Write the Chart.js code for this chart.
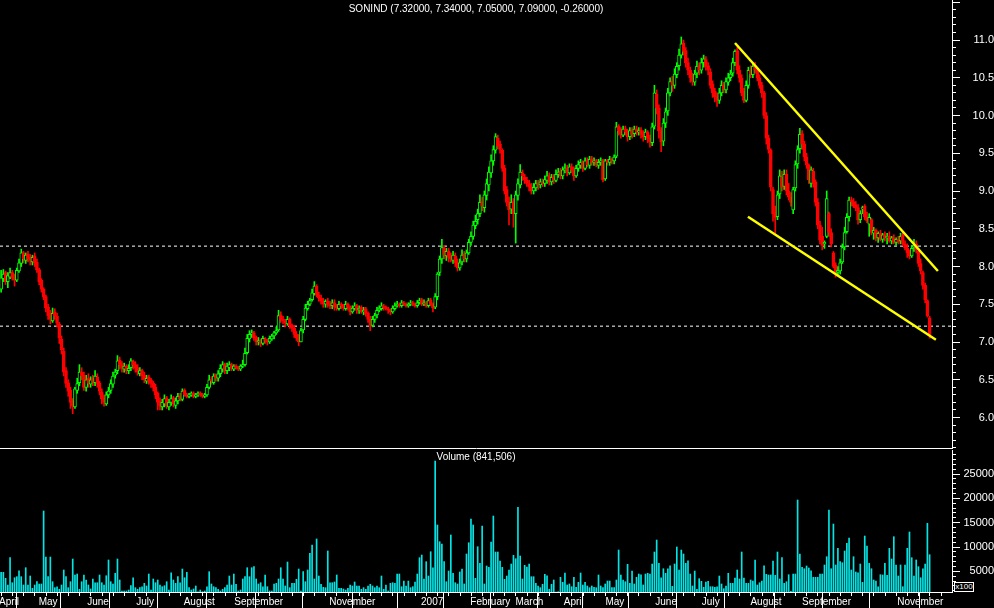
<!DOCTYPE html>
<html>
<head>
<meta charset="utf-8">
<script src="https://cdn.jsdelivr.net/npm/chart.js@4.4.0/dist/chart.umd.min.js"></script>
<style>
  html, body { margin: 0; padding: 0; background: #000; }
  #wrap { position: relative; width: 994px; height: 608px; background: #000; overflow: hidden; }
  #pricePane { position: absolute; left: 0; top: 0; width: 994px; height: 449px; }
  #volPane { position: absolute; left: 0; top: 449px; width: 994px; height: 159px; }
  .caption { position: absolute; left: 0; width: 952px; text-align: center; color: #fff;
             font: 10px "Liberation Sans", Arial, sans-serif; line-height: 12px; white-space: nowrap; }
  #x100 { position: absolute; left: 954px; top: 582px; width: 18px; height: 8px; border: 1px solid #fff;
          background: #000; color: #fff; font: 8px "Liberation Sans", Arial, sans-serif; line-height: 8px; text-align: center; }
</style>
</head>
<body>
<div id="wrap">
  <div id="pricePane"><canvas id="priceChart"></canvas></div>
  <div id="volPane"><canvas id="volChart"></canvas></div>
  <div class="caption" style="top:3px">SONIND (7.32000, 7.34000, 7.05000, 7.09000, -0.26000)</div>
  <div class="caption" style="top:451px">Volume (841,506)</div>
  <div id="x100">x100</div>
</div>
<script>
// daily candles, one per trading day, Apr 2006 - Nov 2007
const opens = [
  7.70,7.84,7.92,7.80,7.86,7.92,7.86,7.82,7.94,8.04, 8.18,8.08,8.16,8.12,8.06,8.14,8.06,7.96,7.82,7.70,
  7.60,7.46,7.38,7.28,7.40,7.34,7.24,7.04,6.88,6.62, 6.46,6.36,6.22,6.14,6.36,6.46,6.60,6.56,6.40,6.52,
  6.44,6.52,6.46,6.54,6.46,6.34,6.26,6.18,6.30,6.36, 6.44,6.56,6.62,6.76,6.70,6.64,6.68,6.62,6.66,6.74,
  6.70,6.66,6.58,6.62,6.56,6.48,6.54,6.50,6.46,6.40, 6.32,6.22,6.14,6.18,6.26,6.14,6.20,6.26,6.16,6.22,
  6.28,6.24,6.36,6.30,6.28,6.30,6.32,6.28,6.30,6.32, 6.30,6.28,6.30,6.40,6.50,6.46,6.56,6.52,6.58,6.64,
  6.70,6.62,6.66,6.70,6.64,6.68,6.66,6.64,6.68,6.70, 6.86,7.04,7.10,7.12,7.06,7.00,7.02,6.98,7.04,7.02,
  7.00,7.04,7.08,7.12,7.16,7.36,7.30,7.28,7.24,7.30, 7.22,7.18,7.10,7.06,7.00,7.16,7.30,7.44,7.50,7.56,
  7.64,7.74,7.62,7.58,7.54,7.50,7.54,7.50,7.48,7.52, 7.48,7.44,7.50,7.48,7.44,7.50,7.46,7.40,7.44,7.48,
  7.42,7.46,7.40,7.44,7.38,7.30,7.22,7.30,7.36,7.42, 7.44,7.48,7.46,7.44,7.42,7.40,7.44,7.48,7.50,7.48,
  7.52,7.50,7.48,7.50,7.52,7.50,7.48,7.52,7.56,7.50, 7.52,7.48,7.56,7.50,7.46,7.60,7.92,8.10,8.24,8.14,
  8.20,8.14,8.08,8.14,8.06,7.98,8.06,8.16,8.10,8.18, 8.32,8.40,8.54,8.62,8.70,8.86,8.78,8.94,9.08,9.24,
  9.40,9.54,9.70,9.62,9.54,9.30,9.02,8.86,8.76,8.86, 8.70,8.94,9.08,9.24,9.18,9.14,9.10,9.06,9.00,9.04,
  9.10,9.08,9.12,9.10,9.14,9.20,9.12,9.18,9.14,9.22, 9.26,9.20,9.28,9.30,9.24,9.32,9.28,9.20,9.30,9.34,
  9.38,9.30,9.40,9.34,9.42,9.38,9.40,9.34,9.38,9.40, 9.16,9.40,9.38,9.42,9.40,9.46,9.86,9.80,9.74,9.82,
  9.78,9.72,9.80,9.76,9.82,9.78,9.80,9.76,9.72,9.78, 9.70,9.64,9.86,10.28,10.10,9.80,9.66,9.90,10.06,10.30,
  10.46,10.40,10.54,10.66,10.80,10.96,10.86,10.70,10.60,10.52, 10.44,10.56,10.66,10.60,10.70,10.74,10.66,10.58,10.42,10.32,
  10.26,10.20,10.30,10.40,10.34,10.44,10.50,10.56,10.70,10.86, 10.60,10.50,10.32,10.20,10.40,10.60,10.54,10.66,10.60,10.50,
  10.40,10.30,10.00,9.70,9.54,9.02,8.72,8.66,8.96,9.18, 9.06,9.22,9.00,8.92,8.75,9.04,9.36,9.56,9.76,9.62,
  9.45,9.34,9.10,9.26,9.12,8.85,8.55,8.40,8.30,8.40, 8.70,8.45,8.18,8.02,7.92,7.94,8.06,8.26,8.46,8.66,
  8.88,8.86,8.82,8.78,8.62,8.76,8.80,8.66,8.56,8.62, 8.44,8.48,8.38,8.44,8.36,8.42,8.38,8.40,8.34,8.38,
  8.32,8.36,8.34,8.42,8.30,8.24,8.18,8.14,8.26,8.30, 8.20,8.04,7.92,7.75,7.55,7.32
];
const highs = [
  7.95,7.96,7.94,7.92,7.98,7.95,7.90,7.98,8.10,8.23, 8.20,8.18,8.20,8.16,8.15,8.18,8.10,7.98,7.84,7.72,
  7.62,7.50,7.42,7.45,7.44,7.38,7.26,7.08,6.92,6.66, 6.50,6.40,6.25,6.40,6.52,6.70,6.66,6.60,6.56,6.58,
  6.54,6.56,6.62,6.58,6.48,6.38,6.30,6.34,6.40,6.50, 6.60,6.64,6.82,6.80,6.74,6.72,6.70,6.70,6.78,6.76,
  6.74,6.70,6.66,6.64,6.60,6.56,6.56,6.52,6.48,6.44, 6.34,6.26,6.24,6.30,6.28,6.24,6.30,6.28,6.26,6.32,
  6.32,6.38,6.38,6.32,6.32,6.34,6.34,6.32,6.34,6.34, 6.32,6.32,6.44,6.56,6.54,6.58,6.58,6.62,6.70,6.74,
  6.72,6.72,6.74,6.72,6.70,6.70,6.68,6.70,6.76,6.92, 7.10,7.15,7.16,7.14,7.08,7.06,7.04,7.08,7.06,7.04,
  7.08,7.10,7.14,7.20,7.42,7.40,7.34,7.30,7.34,7.32, 7.24,7.22,7.14,7.10,7.18,7.34,7.50,7.54,7.58,7.70,
  7.80,7.76,7.66,7.62,7.58,7.56,7.58,7.54,7.56,7.56, 7.50,7.54,7.52,7.50,7.54,7.52,7.48,7.48,7.52,7.50,
  7.48,7.48,7.46,7.46,7.40,7.34,7.34,7.38,7.46,7.48, 7.52,7.50,7.48,7.46,7.44,7.48,7.52,7.54,7.52,7.55,
  7.54,7.52,7.52,7.55,7.54,7.52,7.55,7.58,7.58,7.56, 7.54,7.58,7.58,7.52,7.64,7.92,8.14,8.36,8.28,8.24,
  8.24,8.18,8.20,8.18,8.10,8.10,8.22,8.20,8.22,8.36, 8.46,8.60,8.68,8.76,8.95,8.92,9.00,9.16,9.32,9.48,
  9.60,9.76,9.74,9.66,9.56,9.34,9.06,8.92,8.95,8.90, 9.00,9.16,9.35,9.28,9.22,9.18,9.14,9.10,9.10,9.14,
  9.14,9.16,9.16,9.20,9.26,9.24,9.22,9.22,9.28,9.30, 9.30,9.32,9.36,9.34,9.36,9.36,9.32,9.34,9.40,9.42,
  9.40,9.44,9.44,9.46,9.46,9.44,9.42,9.42,9.44,9.42, 9.42,9.42,9.46,9.44,9.48,9.91,9.88,9.84,9.86,9.86,
  9.82,9.84,9.84,9.86,9.86,9.84,9.84,9.80,9.82,9.80, 9.74,9.90,10.40,10.34,10.14,9.84,9.96,10.10,10.36,10.50,
  10.52,10.62,10.70,10.88,11.04,11.00,10.90,10.76,10.64,10.56, 10.60,10.72,10.70,10.76,10.80,10.78,10.70,10.62,10.46,10.36,
  10.30,10.36,10.46,10.44,10.50,10.56,10.60,10.76,10.87,10.90, 10.66,10.54,10.36,10.46,10.64,10.66,10.70,10.70,10.64,10.54,
  10.44,10.32,10.04,9.74,9.56,9.05,8.80,9.00,9.28,9.26, 9.28,9.28,9.10,8.98,9.05,9.40,9.60,9.83,9.80,9.66,
  9.50,9.36,9.32,9.30,9.15,8.90,8.60,8.52,8.34,9.00, 8.72,8.50,8.20,8.05,8.00,8.10,8.30,8.52,8.70,8.92,
  8.92,8.90,8.86,8.82,8.74,8.80,8.82,8.72,8.70,8.64, 8.52,8.50,8.46,8.48,8.44,8.46,8.44,8.46,8.40,8.42,
  8.38,8.40,8.44,8.46,8.34,8.30,8.22,8.28,8.36,8.34, 8.24,8.10,7.94,7.78,7.56,7.34
];
const lows = [
  7.66,7.80,7.76,7.72,7.84,7.82,7.74,7.80,7.92,8.00, 8.05,8.04,8.06,8.02,8.02,8.00,7.92,7.76,7.66,7.56,
  7.40,7.30,7.24,7.26,7.30,7.20,6.98,6.84,6.55,6.40, 6.28,6.12,6.05,6.12,6.32,6.42,6.50,6.36,6.35,6.40,
  6.40,6.42,6.42,6.40,6.30,6.18,6.15,6.16,6.26,6.32, 6.40,6.52,6.58,6.64,6.60,6.60,6.58,6.58,6.62,6.64,
  6.60,6.56,6.55,6.50,6.46,6.45,6.44,6.40,6.35,6.25, 6.10,6.10,6.10,6.14,6.12,6.10,6.16,6.14,6.12,6.18,
  6.22,6.22,6.28,6.26,6.26,6.28,6.26,6.26,6.28,6.28, 6.26,6.26,6.28,6.38,6.44,6.44,6.48,6.48,6.54,6.60,
  6.58,6.58,6.62,6.62,6.62,6.64,6.62,6.62,6.66,6.68, 6.84,7.00,7.06,7.02,6.96,6.96,6.94,6.96,6.98,6.96,
  6.98,7.02,7.04,7.10,7.14,7.26,7.24,7.20,7.22,7.18, 7.14,7.06,7.02,6.95,7.00,7.12,7.28,7.42,7.48,7.54,
  7.62,7.60,7.54,7.50,7.46,7.46,7.46,7.44,7.44,7.42, 7.42,7.42,7.44,7.42,7.42,7.42,7.36,7.38,7.42,7.38,
  7.38,7.38,7.36,7.34,7.26,7.15,7.20,7.26,7.32,7.40, 7.42,7.42,7.42,7.38,7.36,7.38,7.42,7.46,7.46,7.46,
  7.48,7.46,7.46,7.48,7.48,7.46,7.46,7.50,7.48,7.48, 7.46,7.46,7.48,7.40,7.44,7.56,7.88,8.04,8.10,8.08,
  8.06,8.06,8.04,8.00,7.94,7.95,8.02,8.06,8.06,8.16, 8.28,8.36,8.50,8.56,8.66,8.74,8.72,8.88,9.00,9.18,
  9.34,9.50,9.56,9.50,9.26,8.96,8.80,8.55,8.70,8.52, 8.31,8.88,9.04,9.14,9.10,9.06,9.00,8.96,8.96,9.00,
  9.02,9.04,9.06,9.06,9.10,9.08,9.08,9.10,9.12,9.18, 9.16,9.16,9.24,9.20,9.22,9.24,9.14,9.18,9.26,9.30,
  9.26,9.28,9.32,9.30,9.34,9.34,9.32,9.30,9.34,9.12, 9.14,9.34,9.34,9.36,9.36,9.44,9.74,9.70,9.72,9.74,
  9.66,9.68,9.70,9.72,9.74,9.74,9.70,9.66,9.68,9.64, 9.58,9.60,9.82,10.02,9.70,9.52,9.60,9.84,10.00,10.26,
  10.32,10.36,10.50,10.60,10.76,10.80,10.64,10.54,10.44,10.40, 10.40,10.50,10.54,10.56,10.64,10.60,10.54,10.36,10.24,10.18,
  10.12,10.16,10.26,10.30,10.30,10.40,10.46,10.52,10.66,10.55, 10.44,10.26,10.17,10.18,10.36,10.50,10.50,10.56,10.46,10.36,
  10.24,9.96,9.62,9.50,9.00,8.60,8.44,8.62,8.90,9.00, 9.02,8.95,8.88,8.80,8.70,9.00,9.30,9.50,9.55,9.40,
  9.30,9.10,9.05,9.05,8.80,8.50,8.30,8.22,8.24,8.38, 8.40,8.26,7.98,7.86,7.88,7.90,8.04,8.22,8.44,8.60,
  8.80,8.78,8.74,8.56,8.58,8.70,8.62,8.58,8.40,8.42, 8.36,8.34,8.32,8.34,8.32,8.34,8.30,8.32,8.30,8.30,
  8.28,8.30,8.30,8.28,8.22,8.12,8.10,8.12,8.20,8.18, 8.00,7.90,7.70,7.52,7.33,7.05
];
const closes = [
  7.85,7.90,7.80,7.88,7.92,7.85,7.82,7.95,8.05,8.18, 8.10,8.15,8.10,8.08,8.12,8.05,7.95,7.80,7.70,7.60,
  7.45,7.35,7.30,7.38,7.35,7.25,7.05,6.90,6.60,6.45, 6.35,6.20,6.15,6.38,6.45,6.60,6.55,6.40,6.50,6.45,
  6.50,6.48,6.55,6.45,6.35,6.25,6.20,6.30,6.35,6.45, 6.55,6.60,6.75,6.70,6.65,6.68,6.62,6.65,6.75,6.70,
  6.65,6.60,6.62,6.55,6.50,6.52,6.48,6.45,6.40,6.30, 6.20,6.15,6.20,6.25,6.15,6.20,6.25,6.18,6.22,6.28,
  6.25,6.35,6.30,6.28,6.30,6.32,6.28,6.30,6.32,6.30, 6.28,6.30,6.40,6.50,6.48,6.55,6.52,6.58,6.65,6.70,
  6.62,6.68,6.70,6.65,6.68,6.66,6.64,6.68,6.70,6.85, 7.05,7.10,7.12,7.05,7.00,7.02,6.98,7.05,7.02,7.00,
  7.05,7.08,7.12,7.15,7.35,7.30,7.28,7.25,7.30,7.22, 7.18,7.10,7.05,7.00,7.15,7.30,7.45,7.50,7.55,7.65,
  7.74,7.62,7.58,7.54,7.50,7.54,7.50,7.48,7.52,7.46, 7.45,7.50,7.48,7.45,7.50,7.46,7.40,7.45,7.48,7.42,
  7.45,7.40,7.42,7.38,7.30,7.22,7.30,7.35,7.42,7.45, 7.48,7.46,7.44,7.42,7.40,7.45,7.48,7.50,7.48,7.52,
  7.50,7.48,7.50,7.52,7.50,7.48,7.52,7.55,7.50,7.52, 7.48,7.55,7.50,7.45,7.60,7.90,8.10,8.25,8.15,8.20,
  8.12,8.10,8.15,8.05,7.98,8.05,8.15,8.10,8.18,8.32, 8.40,8.55,8.60,8.70,8.85,8.80,8.95,9.10,9.25,9.40,
  9.55,9.72,9.60,9.55,9.30,9.00,8.85,8.75,8.85,8.70, 8.95,9.10,9.25,9.20,9.15,9.10,9.05,9.00,9.05,9.10,
  9.08,9.12,9.10,9.15,9.20,9.12,9.18,9.15,9.22,9.25, 9.20,9.28,9.30,9.25,9.32,9.28,9.20,9.30,9.35,9.38,
  9.30,9.40,9.35,9.42,9.38,9.40,9.35,9.38,9.40,9.15, 9.40,9.38,9.42,9.40,9.45,9.85,9.80,9.75,9.82,9.78,
  9.72,9.80,9.75,9.82,9.78,9.80,9.75,9.72,9.78,9.70, 9.65,9.85,10.30,10.10,9.80,9.65,9.90,10.05,10.30,10.45,
  10.40,10.55,10.65,10.80,10.95,10.85,10.70,10.60,10.50,10.45, 10.55,10.65,10.60,10.70,10.75,10.65,10.60,10.40,10.30,10.25,
  10.20,10.30,10.40,10.35,10.45,10.50,10.55,10.70,10.85,10.60, 10.50,10.30,10.20,10.40,10.60,10.55,10.65,10.60,10.50,10.40,
  10.30,10.00,9.70,9.55,9.05,8.70,8.65,8.95,9.20,9.05, 9.22,9.00,8.92,8.85,9.02,9.35,9.55,9.75,9.62,9.45,
  9.35,9.15,9.28,9.10,8.85,8.55,8.35,8.28,8.32,8.90, 8.45,8.30,8.00,7.92,7.95,8.05,8.25,8.45,8.65,8.88,
  8.86,8.80,8.78,8.62,8.70,8.78,8.66,8.60,8.65,8.45, 8.48,8.38,8.44,8.36,8.42,8.38,8.40,8.34,8.38,8.32,
  8.36,8.33,8.40,8.30,8.25,8.18,8.14,8.24,8.28,8.22, 8.04,7.94,7.75,7.56,7.35,7.09
];
// volume in hundreds of shares (axis is x100)
const volumes = [
  4790,4790,3560,2180,7800,2650,3680,3890,5120,3890, 2180,5740,2180,4030,1500,2180,2860,2390,2390,17410,
  7940,3890,7940,2860,1630,1830,1300,2180,5270,3890, 1630,2860,7530,4240,4440,1300,2860,4240,3210,2180,
  1360,3420,2650,2650,4240,2650,2180,4090,7330,2860, 2390,4590,7530,3210,950,950,950,1150,2040,3680,
  1630,1300,1630,1830,2530,1980,4440,1150,3420,2650, 3210,2180,1830,2040,2860,1150,4710,3210,2530,3890,
  2650,5470,3680,4790,1630,1150,1360,1980,800,1150, 800,950,1830,4920,2390,1830,1630,1300,950,1300,
  1630,2180,4030,2180,4440,2330,950,1150,3420,3890, 5740,3890,5740,5950,3420,2390,2650,1830,4240,1830,
  950,950,2390,2530,3420,5740,3420,1980,6910,1630, 2530,2530,3350,5470,950,4920,2860,5270,8700,10410,
  3420,11650,4030,2330,1710,1630,9180,2650,2650,2800, 4240,1500,1500,1360,1150,1500,2180,1980,2800,1980,
  1980,1300,1630,1300,1980,2330,1980,1630,1980,1630, 4030,1300,2180,950,2530,2650,2530,4440,4440,1830,
  3000,1980,3000,1630,1830,2800,4440,7800,8350,3420, 6980,4030,9030,5740,27690,14530,11090,10620,6980,2860,
  5060,12470,4590,2650,2390,4860,5470,2390,8560,10880, 15760,14530,3560,10060,6650,14320,2390,6090,5820,11030,
  16380,8970,8970,7120,5820,3350,4030,5270,6500,8290, 7590,18170,8150,3420,6230,5880,6500,3890,3890,2530,
  1980,1630,2330,4380,4090,1300,2330,3210,740,800, 3770,2740,4650,2180,2390,1830,3770,1710,2740,4650,
  2180,2740,1980,1630,1980,1710,1630,4240,1980,1630, 2390,3000,3000,1630,1630,3210,9380,4240,3210,2860,
  6440,2530,5060,2390,3770,4440,4300,2180,4440,4590, 4440,6500,8970,11440,6650,3680,5530,4590,5530,6150,
  1910,6500,10000,5270,9380,8560,6650,7180,4440,1980, 5060,1300,3480,2940,1710,2800,2940,1830,1830,1710,
  1830,4030,2390,1420,1980,4590,2530,2530,3620,5270, 3420,8970,3620,2530,2530,3210,3000,7330,2180,2650,
  3000,6150,4380,4240,4240,7120,4180,8970,3420,7800, 2530,2860,4300,880,4440,4440,19670,8560,5820,5530,
  6090,5680,5120,3770,3770,3770,4440,4440,6300,8000, 17610,5530,14730,6300,9730,6980,6770,9180,10760,11850,
  5270,8000,4860,4710,6500,2740,12260,10210,6650,5530, 3210,3000,1830,4300,4240,6650,4180,9730,7530,12120,
  6300,4030,6300,1830,6300,9730,13090,7800,4030,7330, 5950,3680,5530,6500,14880,8415
];

// month boundaries on the day axis, with their labels ('' where the label is hidden)
const monthTicks = [-1.8, 15.9, 37.6, 59.5, 80.7, 103.3, 123.9, 145.8, 167.9, 186.8, 208.8,
                    229.0, 250.6, 269.2, 291.5, 312.3, 334.0, 357.1, 376.8, 399.6, 421.5];
const monthLabels = ['April', 'May', 'June', 'July', 'August', 'September', '', 'November', '', '2007', 'February',
                     'March', 'April', 'May', 'June', 'July', 'August', 'September', '', 'November', ''];
const volumeTicks = [5000, 10000, 15000, 20000, 25000];

// support / resistance levels and the drawn channel
const levelHigh = 8.27;
const levelLow = 7.21;
const channelTop = [{x: 328.0, y: 10.96}, {x: 418.7, y: 7.94}];
const channelBottom = [{x: 333.8, y: 8.66}, {x: 417.8, y: 7.03}];

const X_MIN = -0.5, X_MAX = 425;
const VOL_MIN = 741, VOL_MAX = 29965;
const GREEN = '#00ff00', RED = '#ff0000', CYAN = '#00e6e6', WHITE = '#ffffff';

Chart.defaults.font.family = '"Liberation Sans", Arial, sans-serif';
Chart.defaults.color = WHITE;
Chart.defaults.animation = false;

function candleColour(i) {
    const prev = i > 0 ? closes[i - 1] : opens[i];
    return closes[i] >= prev ? GREEN : RED;
}

function noPadding(scale) {
    scale.paddingTop = 0;
    scale.paddingBottom = 0;
    scale.paddingLeft = 0;
    scale.paddingRight = 0;
}

const colours = closes.map((c, i) => candleColour(i));
const hollow = closes.map((c, i) => c > opens[i]);

const commonPlugins = {
    legend: { display: false },
    tooltip: { enabled: false }
};

// ---- price chart
const priceCtx = document.getElementById('priceChart');
new Chart(priceCtx, {
    type: 'bar',
    data: {
        datasets: [{
            label: 'wicks',
            data: closes.map((c, i) => ({ x: i, y: [lows[i], highs[i]] })),
            backgroundColor: colours,
            borderWidth: 0,
            barThickness: 1,
            grouped: false,
            order: 2
        }, {
            label: 'bodies',
            data: closes.map((c, i) => ({ x: i, y: [opens[i], c] })),
            backgroundColor: colours.map((col, i) => hollow[i] ? '#000000' : col),
            borderColor: colours,
            borderWidth: 1,
            borderSkipped: false,
            barThickness: 3,
            minBarLength: 1,
            grouped: false,
            order: 1
        }, {
            type: 'line',
            label: 'level high',
            data: [{ x: X_MIN, y: levelHigh }, { x: X_MAX, y: levelHigh }],
            borderColor: WHITE,
            borderWidth: 1,
            borderDash: [3, 3],
            pointRadius: 0,
            order: 3
        }, {
            type: 'line',
            label: 'level low',
            data: [{ x: X_MIN, y: levelLow }, { x: X_MAX, y: levelLow }],
            borderColor: WHITE,
            borderWidth: 1,
            borderDash: [3, 3],
            pointRadius: 0,
            order: 3
        }, {
            type: 'line',
            label: 'channel top',
            data: channelTop,
            borderColor: '#ffff00',
            borderWidth: 2.5,
            pointRadius: 0,
            order: 0
        }, {
            type: 'line',
            label: 'channel bottom',
            data: channelBottom,
            borderColor: '#ffff00',
            borderWidth: 2.5,
            pointRadius: 0,
            order: 0
        }]
    },
    options: {
        responsive: true,
        maintainAspectRatio: false,
        layout: { padding: 0 },
        plugins: commonPlugins,
        scales: {
            x: {
                type: 'linear', min: X_MIN, max: X_MAX, offset: false,
                ticks: { display: false },
                grid: { display: false, drawTicks: false },
                border: { display: true, color: WHITE, width: 1 },
                afterFit: s => { noPadding(s); s.height = 1; }
            },
            yMinor: {
                type: 'linear', position: 'right', min: 5.596, max: 11.53, weight: 0,
                ticks: { display: false, stepSize: 0.1, includeBounds: false },
                grid: { drawOnChartArea: false, color: WHITE, tickLength: 4 },
                border: { display: false },
                afterFit: s => { noPadding(s); s.width = 0; }
            },
            y: {
                type: 'linear', position: 'right', min: 5.596, max: 11.53, weight: 1,
                ticks: {
                    stepSize: 0.5, includeBounds: false, autoSkip: false,
                    crossAlign: 'far', padding: 9, color: WHITE, font: { size: 11 },
                    callback: v => v > 11.2 ? '' : v.toFixed(1)
                },
                grid: { drawOnChartArea: false, color: WHITE, tickLength: 8 },
                border: { display: true, color: WHITE },
                afterFit: s => { noPadding(s); s.width = 42; }
            }
        }
    }
});

// ---- volume chart
const volCtx = document.getElementById('volChart');
new Chart(volCtx, {
    type: 'bar',
    data: {
        datasets: [{
            label: 'Volume',
            data: volumes.map((v, i) => ({ x: i, y: v })),
            backgroundColor: CYAN,
            borderWidth: 0,
            barThickness: 1,
            grouped: false
        }]
    },
    options: {
        responsive: true,
        maintainAspectRatio: false,
        layout: { padding: { top: 1, left: 0, right: 0, bottom: 0 } },
        plugins: commonPlugins,
        scales: {
            xMinor: {
                type: 'linear', position: 'bottom', min: X_MIN, max: X_MAX, offset: false, weight: 0,
                afterBuildTicks: s => {
                    const t = [];
                    for (let v = 2.6; v < X_MAX; v += 5) t.push({ value: v });
                    s.ticks = t;
                },
                ticks: { display: false },
                grid: { drawOnChartArea: false, color: WHITE, tickLength: 4 },
                border: { display: false },
                afterFit: s => { noPadding(s); s.height = 0; }
            },
            x: {
                type: 'linear', position: 'bottom', min: X_MIN, max: X_MAX, offset: false, weight: 1,
                afterBuildTicks: s => { s.ticks = monthTicks.map(v => ({ value: v })); },
                ticks: {
                    autoSkip: false, maxRotation: 0, minRotation: 0, align: 'start',
                    labelOffset: 2, padding: -12, color: WHITE, font: { size: 10 },
                    callback: (v, i) => monthLabels[i]
                },
                grid: { drawOnChartArea: false, color: WHITE, tickLength: 16 },
                border: { display: true, color: WHITE },
                afterFit: s => { noPadding(s); s.height = 16; }
            },
            yMinor: {
                type: 'linear', position: 'right', min: VOL_MIN, max: VOL_MAX, weight: 0,
                afterBuildTicks: s => {
                    const t = [];
                    for (let v = 1000; v < VOL_MAX; v += 1000) t.push({ value: v });
                    s.ticks = t;
                },
                ticks: { display: false },
                grid: { drawOnChartArea: false, color: WHITE, tickLength: 4 },
                border: { display: false },
                afterFit: s => { noPadding(s); s.width = 0; }
            },
            y: {
                type: 'linear', position: 'right', min: VOL_MIN, max: VOL_MAX, weight: 1,
                afterBuildTicks: s => { s.ticks = volumeTicks.map(v => ({ value: v })); },
                ticks: {
                    autoSkip: false, crossAlign: 'far', padding: 0, color: WHITE, font: { size: 11 },
                    callback: v => String(v)
                },
                grid: { drawOnChartArea: false, color: WHITE, tickLength: 8 },
                border: { display: true, color: WHITE },
                afterFit: s => { noPadding(s); s.width = 42; }
            }
        }
    }
});
</script>
</body>
</html>
